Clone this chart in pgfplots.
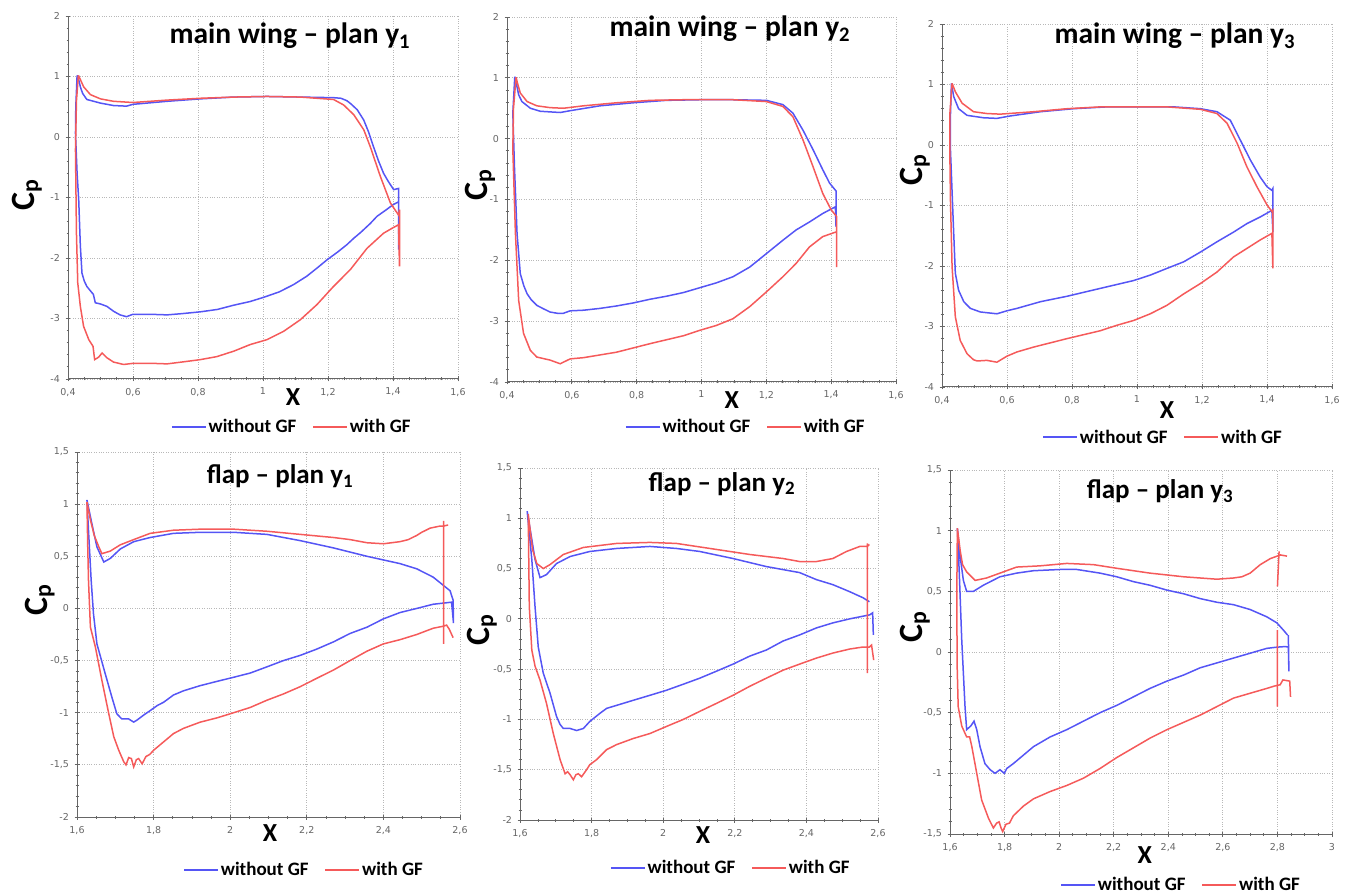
\documentclass[border=0pt]{standalone}
\usepackage{fontspec}
\setmainfont{Carlito}
\newfontfamily\tickfont{DejaVu Sans}
\usepackage{pgfplots}
\pgfplotsset{compat=1.18}
\definecolor{cblue}{RGB}{85,85,245}
\definecolor{cred}{RGB}{245,90,90}
\pgfplotsset{
  cp/.style={
    scale only axis, anchor=south west,
    axis x line*=bottom, axis y line*=left,
    axis line style={black!60, line width=1pt},
    grid=major, grid style={dotted, black!28, line width=0.8pt},
    tick style={black!60, line width=0.8pt},
    major tick length=5pt, minor tick length=3pt,
    tick align=center,
    minor x tick num=3, minor y tick num=4,
    tick label style={font=\tickfont\fontsize{9.5}{10}\selectfont, text=black!60},
    /pgf/number format/assume math mode=true,
    /pgf/number format/use comma,
    xticklabel style={yshift=-3pt},
    yticklabel style={xshift=-2pt},
    unbounded coords=jump,
    legend columns=2,
    legend style={draw=none, fill=none, inner sep=0pt, font=\bfseries\fontsize{19}{20}\selectfont, /tikz/every even column/.append style={column sep=14pt}},
    legend image code/.code={\draw[##1] (0pt,0pt) -- (34pt,0pt);},
    xlabel={X}, ylabel={C\textsubscript{p}},
    xlabel style={font=\bfseries\fontsize{26}{28}\selectfont, anchor=center},
    ylabel style={font=\bfseries\fontsize{34}{36}\selectfont, anchor=center},
    title style={font=\bfseries\fontsize{27}{30}\selectfont, anchor=center, yshift=0pt},
  },
  mainw/.style={cp, xmin=0.4, xmax=1.6, ymin=-4, ymax=2,
    xtick={0.4,0.6,0.8,1,1.2,1.4,1.6}, ytick={-4,-3,-2,-1,0,1,2},
    title style={font=\bfseries\fontsize{29.5}{32}\selectfont}},
  flapw/.style={cp, xmin=1.6, xmax=2.6, ymin=-2, ymax=1.5,
    xtick={1.6,1.8,2,2.2,2.4,2.6}, ytick={-2,-1.5,-1,-0.5,0,0.5,1,1.5}},
  bl/.style={color=cblue, line width=1.5pt},
  rd/.style={color=cred, line width=1.5pt},
}
\begin{document}
\begin{tikzpicture}[x=1pt,y=1pt]
\path[use as bounding box] (0pt,0pt) rectangle (1349pt,895pt);

% ---------- Panel 1: main wing y1
\begin{axis}[mainw, at={(68pt,516pt)}, width=390pt, height=363pt,
  title={main wing -- plan y\textsubscript{1}},
  title style={at={(axis description cs:0.569,0.928)}},
  xlabel style={at={(axis description cs:0.577,-0.05)}},
  ylabel style={at={(axis description cs:-0.105,0.507)}},
  legend style={at={(axis description cs:0.574,-0.132)}, anchor=center}]
\addplot[bl] coordinates {(0.428,1.02) (0.424,0.5) (0.423,0.06) (0.428,-0.6) (0.433,-1.04) (0.438,-1.8) (0.443,-2.25) (0.450,-2.38) (0.458,-2.47) (0.470,-2.55) (0.478,-2.60) (0.484,-2.74) (0.50,-2.76) (0.52,-2.80) (0.54,-2.88) (0.56,-2.94) (0.58,-2.97) (0.60,-2.93) (0.65,-2.93) (0.705,-2.94) (0.75,-2.92) (0.807,-2.89) (0.86,-2.85) (0.91,-2.78) (0.96,-2.72) (1.002,-2.65) (1.05,-2.56) (1.094,-2.44) (1.135,-2.30) (1.17,-2.15) (1.197,-2.03) (1.23,-1.90) (1.258,-1.78) (1.28,-1.67) (1.30,-1.58) (1.33,-1.43) (1.351,-1.31) (1.38,-1.20) (1.40,-1.12) (1.4175,-1.07) (1.4175,-1.86) (1.4175,-0.85) (1.402,-0.87) (1.385,-0.73) (1.371,-0.60) (1.355,-0.39) (1.34,-0.16) (1.325,0.08) (1.31,0.28) (1.29,0.45) (1.27,0.55) (1.258,0.60) (1.24,0.64) (1.217,0.65) (1.115,0.66) (1.012,0.67) (0.91,0.66) (0.807,0.63) (0.705,0.59) (0.60,0.54) (0.58,0.51) (0.54,0.52) (0.50,0.56) (0.458,0.62) (0.445,0.72) (0.438,0.83) (0.432,0.97) (0.428,1.02)};
\addlegendentry{without GF}
\addplot[rd] coordinates {(0.432,1.02) (0.426,0.6) (0.423,-0.21) (0.426,-1.59) (0.43,-2.41) (0.438,-2.80) (0.448,-3.13) (0.464,-3.35) (0.477,-3.46) (0.482,-3.68) (0.494,-3.64) (0.505,-3.57) (0.52,-3.65) (0.54,-3.72) (0.571,-3.76) (0.602,-3.74) (0.653,-3.74) (0.705,-3.75) (0.75,-3.72) (0.807,-3.68) (0.858,-3.63) (0.91,-3.54) (0.961,-3.43) (1.012,-3.35) (1.064,-3.21) (1.115,-3.02) (1.166,-2.77) (1.217,-2.47) (1.269,-2.19) (1.32,-1.84) (1.371,-1.59) (1.40,-1.50) (1.417,-1.45) (1.42,-2.14) (1.42,-1.20) (1.417,-1.29) (1.392,-1.09) (1.361,-0.65) (1.33,-0.16) (1.31,0.12) (1.279,0.37) (1.248,0.53) (1.217,0.62) (1.115,0.66) (1.012,0.67) (0.91,0.66) (0.807,0.64) (0.705,0.61) (0.60,0.57) (0.54,0.59) (0.50,0.63) (0.469,0.70) (0.448,0.83) (0.438,0.95) (0.432,1.02)};
\addlegendentry{with GF}
\end{axis}

% ---------- Panel 2: main wing y2
\begin{axis}[mainw, at={(507pt,513pt)}, width=389pt, height=365pt,
  title={main wing -- plan y\textsubscript{2}},
  title style={at={(axis description cs:0.573,0.951)}},
  xlabel style={at={(axis description cs:0.578,-0.049)}},
  ylabel style={at={(axis description cs:-0.069,0.54)}},
  legend style={at={(axis description cs:0.614,-0.123)}, anchor=center}]
\addplot[bl] coordinates {(0.424,1.02) (0.418,0.42) (0.423,-0.46) (0.431,-1.56) (0.441,-2.22) (0.452,-2.42) (0.462,-2.55) (0.475,-2.65) (0.492,-2.74) (0.51,-2.79) (0.533,-2.85) (0.555,-2.87) (0.574,-2.87) (0.595,-2.83) (0.636,-2.82) (0.687,-2.79) (0.738,-2.75) (0.79,-2.70) (0.841,-2.64) (0.892,-2.59) (0.944,-2.53) (0.995,-2.45) (1.046,-2.37) (1.097,-2.27) (1.149,-2.11) (1.2,-1.89) (1.251,-1.67) (1.292,-1.50) (1.333,-1.37) (1.374,-1.23) (1.413,-1.12) (1.415,-1.45) (1.415,-0.86) (1.395,-0.73) (1.374,-0.51) (1.344,-0.18) (1.313,0.14) (1.282,0.42) (1.251,0.56) (1.2,0.63) (1.097,0.64) (0.995,0.64) (0.892,0.63) (0.79,0.59) (0.687,0.54) (0.595,0.46) (0.564,0.43) (0.503,0.45) (0.472,0.50) (0.446,0.61) (0.436,0.72) (0.431,0.85) (0.424,1.02)};
\addlegendentry{without GF}
\addplot[rd] coordinates {(0.428,1.01) (0.42,0.5) (0.418,-0.18) (0.426,-1.56) (0.436,-2.66) (0.451,-3.20) (0.472,-3.48) (0.492,-3.59) (0.533,-3.64) (0.564,-3.70) (0.595,-3.62) (0.636,-3.60) (0.738,-3.51) (0.841,-3.37) (0.944,-3.24) (0.995,-3.15) (1.046,-3.07) (1.097,-2.96) (1.149,-2.76) (1.2,-2.52) (1.251,-2.27) (1.292,-2.05) (1.333,-1.78) (1.374,-1.61) (1.417,-1.53) (1.417,-2.11) (1.417,-1.28) (1.4,-1.17) (1.374,-0.90) (1.344,-0.46) (1.313,-0.02) (1.282,0.36) (1.251,0.53) (1.2,0.61) (1.097,0.64) (0.944,0.64) (0.841,0.63) (0.738,0.59) (0.636,0.54) (0.574,0.50) (0.533,0.51) (0.492,0.54) (0.462,0.61) (0.441,0.75) (0.432,0.92) (0.428,1.01)};
\addlegendentry{with GF}
\end{axis}

% ---------- Panel 3: main wing y3
\begin{axis}[mainw, at={(942pt,508pt)}, width=390pt, height=363pt,
  title={main wing -- plan y\textsubscript{3}},
  title style={at={(axis description cs:0.597,0.95)}},
  xlabel style={at={(axis description cs:0.577,-0.063)}},
  ylabel style={at={(axis description cs:-0.069,0.598)}},
  legend style={at={(axis description cs:0.567,-0.138)}, anchor=center}]
\addplot[bl] coordinates {(0.429,1.02) (0.426,0.5) (0.426,-0.08) (0.434,-1.19) (0.441,-2.12) (0.451,-2.40) (0.467,-2.59) (0.487,-2.70) (0.518,-2.76) (0.569,-2.79) (0.6,-2.74) (0.631,-2.70) (0.703,-2.59) (0.785,-2.50) (0.887,-2.37) (0.99,-2.24) (1.041,-2.15) (1.092,-2.04) (1.144,-1.93) (1.195,-1.77) (1.246,-1.60) (1.297,-1.44) (1.338,-1.30) (1.379,-1.19) (1.415,-1.08) (1.418,-1.44) (1.418,-0.72) (1.415,-0.75) (1.4,-0.69) (1.379,-0.53) (1.349,-0.25) (1.318,0.08) (1.287,0.41) (1.246,0.55) (1.195,0.60) (1.113,0.63) (1.01,0.63) (0.908,0.63) (0.805,0.60) (0.703,0.55) (0.61,0.48) (0.569,0.44) (0.528,0.45) (0.477,0.49) (0.451,0.60) (0.436,0.80) (0.429,1.02)};
\addlegendentry{without GF}
\addplot[rd] coordinates {(0.431,1.02) (0.424,0.5) (0.424,-0.08) (0.426,-0.91) (0.431,-2.01) (0.441,-2.84) (0.456,-3.23) (0.477,-3.45) (0.497,-3.55) (0.508,-3.57) (0.538,-3.56) (0.569,-3.59) (0.6,-3.49) (0.631,-3.42) (0.682,-3.34) (0.785,-3.20) (0.887,-3.07) (0.938,-2.98) (0.99,-2.90) (1.041,-2.79) (1.092,-2.65) (1.144,-2.46) (1.195,-2.29) (1.246,-2.10) (1.297,-1.85) (1.338,-1.71) (1.379,-1.57) (1.415,-1.46) (1.418,-2.04) (1.418,-1.08) (1.415,-1.10) (1.4,-0.99) (1.369,-0.69) (1.338,-0.36) (1.308,0.03) (1.277,0.36) (1.246,0.52) (1.195,0.59) (1.092,0.63) (0.887,0.63) (0.785,0.60) (0.682,0.55) (0.579,0.51) (0.538,0.52) (0.497,0.55) (0.462,0.69) (0.441,0.88) (0.431,1.02)};
\addlegendentry{with GF}
\end{axis}

% ---------- Panel 4: flap y1
\begin{axis}[flapw, at={(77pt,78pt)}, width=383pt, height=365pt,
  title={flap -- plan y\textsubscript{1}},
  title style={at={(axis description cs:0.53,0.918)}},
  xlabel style={at={(axis description cs:0.504,-0.044)}},
  ylabel style={at={(axis description cs:-0.097,0.595)}},
  legend style={at={(axis description cs:0.593,-0.145)}, anchor=center}]
\addplot[bl] coordinates {(1.626,1.04) (1.630,0.75) (1.637,0.27) (1.643,-0.05) (1.652,-0.34) (1.674,-0.63) (1.691,-0.85) (1.704,-1.01) (1.717,-1.06) (1.735,-1.06) (1.748,-1.09) (1.757,-1.07) (1.775,-1.02) (1.791,-0.98) (1.81,-0.93) (1.826,-0.90) (1.852,-0.83) (1.878,-0.79) (1.922,-0.74) (1.965,-0.70) (2.009,-0.66) (2.052,-0.62) (2.096,-0.56) (2.139,-0.50) (2.183,-0.45) (2.226,-0.39) (2.27,-0.32) (2.313,-0.24) (2.357,-0.18) (2.4,-0.10) (2.443,-0.04) (2.487,0.0) (2.53,0.04) (2.578,0.06) (2.583,-0.14) (2.582,0.08) (2.574,0.17) (2.557,0.22) (2.53,0.30) (2.487,0.38) (2.443,0.43) (2.357,0.50) (2.27,0.58) (2.183,0.65) (2.096,0.71) (2.009,0.73) (1.922,0.73) (1.852,0.72) (1.791,0.68) (1.748,0.64) (1.713,0.57) (1.687,0.48) (1.670,0.445) (1.652,0.59) (1.639,0.81) (1.626,1.04)};
\addlegendentry{without GF}
\addplot[rd] coordinates {(2.557,0.84) (2.557,-0.34) (nan,nan) (2.569,0.80) (2.557,0.79) (2.548,0.79) (2.522,0.77) (2.50,0.73) (2.487,0.70) (2.465,0.66) (2.443,0.64) (2.4,0.62) (2.357,0.63) (2.313,0.66) (2.27,0.68) (2.183,0.71) (2.096,0.74) (2.009,0.76) (1.922,0.76) (1.852,0.75) (1.791,0.72) (1.748,0.66) (1.713,0.61) (1.687,0.55) (1.665,0.525) (1.657,0.59) (1.645,0.70) (1.635,0.85) (1.626,1.02) (1.628,0.6) (1.630,0.27) (1.635,-0.18) (1.648,-0.37) (1.665,-0.69) (1.683,-1.01) (1.696,-1.23) (1.709,-1.36) (1.722,-1.47) (1.728,-1.50) (1.735,-1.43) (1.742,-1.44) (1.748,-1.52) (1.755,-1.45) (1.761,-1.44) (1.77,-1.49) (1.78,-1.42) (1.79,-1.40) (1.80,-1.36) (1.826,-1.28) (1.852,-1.20) (1.878,-1.15) (1.922,-1.09) (1.965,-1.05) (2.009,-1.00) (2.052,-0.95) (2.096,-0.88) (2.139,-0.82) (2.183,-0.75) (2.226,-0.67) (2.27,-0.59) (2.313,-0.50) (2.357,-0.41) (2.4,-0.34) (2.443,-0.30) (2.487,-0.25) (2.53,-0.19) (2.557,-0.17) (2.565,-0.16) (2.572,-0.20) (2.582,-0.28)};
\addlegendentry{with GF}
\end{axis}

% ---------- Panel 5: flap y2
\begin{axis}[flapw, at={(520pt,75pt)}, width=358pt, height=352pt,
  title={flap -- plan y\textsubscript{2}},
  title style={at={(axis description cs:0.564,0.938)}},
  xlabel style={at={(axis description cs:0.511,-0.043)}},
  ylabel style={at={(axis description cs:-0.106,0.54)}},
  legend style={at={(axis description cs:0.589,-0.136)}, anchor=center}]
\addplot[bl] coordinates {(2.576,0.17) (2.558,0.21) (2.521,0.27) (2.474,0.34) (2.428,0.39) (2.381,0.46) (2.288,0.52) (2.195,0.60) (2.102,0.67) (2.037,0.70) (1.963,0.72) (1.87,0.70) (1.795,0.67) (1.74,0.62) (1.702,0.55) (1.674,0.44) (1.656,0.41) (1.642,0.59) (1.633,0.79) (1.62,1.07) (1.626,0.85) (1.633,0.59) (1.642,0.12) (1.651,-0.28) (1.665,-0.54) (1.684,-0.74) (1.702,-0.97) (1.712,-1.05) (1.721,-1.09) (1.74,-1.09) (1.758,-1.11) (1.777,-1.09) (1.795,-1.02) (1.823,-0.94) (1.842,-0.89) (1.87,-0.86) (1.916,-0.81) (1.963,-0.76) (2.009,-0.71) (2.056,-0.65) (2.102,-0.59) (2.149,-0.52) (2.195,-0.45) (2.242,-0.37) (2.288,-0.31) (2.335,-0.22) (2.381,-0.16) (2.428,-0.09) (2.474,-0.04) (2.521,0.0) (2.577,0.04) (2.585,0.06) (2.587,-0.16)};
\addlegendentry{without GF}
\addplot[rd] coordinates {(2.570,0.75) (2.570,-0.54) (nan,nan) (2.576,0.74) (2.57,0.72) (2.549,0.72) (2.512,0.67) (2.474,0.60) (2.428,0.57) (2.381,0.57) (2.335,0.60) (2.242,0.64) (2.149,0.69) (2.037,0.75) (1.963,0.76) (1.87,0.75) (1.777,0.71) (1.721,0.64) (1.684,0.54) (1.665,0.50) (1.647,0.55) (1.635,0.69) (1.623,1.04) (1.626,0.12) (1.633,-0.31) (1.642,-0.47) (1.656,-0.61) (1.674,-0.84) (1.693,-1.14) (1.712,-1.40) (1.726,-1.54) (1.733,-1.52) (1.74,-1.55) (1.749,-1.60) (1.756,-1.55) (1.763,-1.54) (1.772,-1.57) (1.786,-1.50) (1.795,-1.45) (1.814,-1.40) (1.842,-1.30) (1.87,-1.25) (1.916,-1.19) (1.963,-1.14) (2.009,-1.07) (2.056,-1.0) (2.102,-0.92) (2.149,-0.84) (2.195,-0.76) (2.242,-0.67) (2.288,-0.59) (2.335,-0.51) (2.381,-0.45) (2.428,-0.39) (2.474,-0.34) (2.521,-0.30) (2.558,-0.28) (2.576,-0.28) (2.582,-0.26) (2.588,-0.41)};
\addlegendentry{with GF}
\end{axis}

% ---------- Panel 6: flap y3
\begin{axis}[cp, xmin=1.6, xmax=3, ymin=-1.5, ymax=1.5,
  xtick={1.6,1.8,2,2.2,2.4,2.6,2.8,3}, ytick={-1.5,-1,-0.5,0,0.5,1,1.5},
  at={(950pt,61pt)}, width=382pt, height=364pt,
  title={flap -- plan y\textsubscript{3}},
  title style={at={(axis description cs:0.55,0.926)}},
  xlabel style={at={(axis description cs:0.51,-0.058)}},
  ylabel style={at={(axis description cs:-0.092,0.569)}},
  legend style={at={(axis description cs:0.605,-0.14)}, anchor=center}]
\addplot[bl] coordinates {(2.837,0.14) (2.822,0.18) (2.798,0.24) (2.761,0.29) (2.7,0.35) (2.639,0.39) (2.578,0.41) (2.517,0.44) (2.456,0.48) (2.395,0.51) (2.333,0.55) (2.272,0.58) (2.211,0.62) (2.15,0.65) (2.065,0.68) (2.003,0.68) (1.906,0.67) (1.844,0.65) (1.783,0.62) (1.722,0.55) (1.686,0.50) (1.661,0.50) (1.649,0.59) (1.637,0.79) (1.627,1.02) (1.634,0.65) (1.643,0.10) (1.655,-0.45) (1.661,-0.64) (1.676,-0.61) (1.688,-0.57) (1.698,-0.64) (1.71,-0.78) (1.728,-0.92) (1.747,-0.97) (1.765,-1.0) (1.783,-0.97) (1.799,-1.0) (1.808,-0.96) (1.832,-0.92) (1.869,-0.85) (1.906,-0.78) (1.967,-0.70) (2.028,-0.64) (2.089,-0.57) (2.15,-0.50) (2.211,-0.44) (2.272,-0.37) (2.333,-0.30) (2.395,-0.24) (2.456,-0.19) (2.517,-0.13) (2.578,-0.09) (2.639,-0.05) (2.7,-0.01) (2.761,0.03) (2.798,0.04) (2.83,0.045) (2.84,0.04) (2.842,-0.16) (2.84,0.14)};
\addlegendentry{without GF}
\addplot[rd] coordinates {(2.80,0.54) (2.806,0.83) (nan,nan) (2.80,0.18) (2.80,-0.45) (nan,nan) (2.835,0.79) (2.811,0.80) (2.774,0.77) (2.737,0.72) (2.70,0.65) (2.67,0.62) (2.639,0.61) (2.578,0.60) (2.517,0.61) (2.456,0.62) (2.395,0.635) (2.333,0.65) (2.272,0.67) (2.211,0.69) (2.126,0.72) (2.028,0.73) (1.93,0.71) (1.844,0.70) (1.783,0.65) (1.734,0.61) (1.692,0.59) (1.661,0.66) (1.646,0.72) (1.637,0.84) (1.627,1.02) (1.625,0.5) (1.626,-0.1) (1.63,-0.45) (1.643,-0.61) (1.661,-0.70) (1.672,-0.70) (1.68,-0.78) (1.698,-1.0) (1.716,-1.22) (1.741,-1.37) (1.759,-1.45) (1.771,-1.41) (1.78,-1.40) (1.787,-1.45) (1.793,-1.48) (1.805,-1.42) (1.818,-1.41) (1.832,-1.35) (1.869,-1.27) (1.906,-1.21) (1.967,-1.15) (2.028,-1.10) (2.089,-1.04) (2.15,-0.96) (2.211,-0.87) (2.272,-0.79) (2.333,-0.71) (2.395,-0.64) (2.456,-0.58) (2.517,-0.52) (2.578,-0.45) (2.639,-0.38) (2.7,-0.34) (2.761,-0.30) (2.79,-0.28) (2.81,-0.27) (2.82,-0.23) (2.845,-0.24) (2.848,-0.37)};
\addlegendentry{with GF}
\end{axis}
\end{tikzpicture}
\end{document}
